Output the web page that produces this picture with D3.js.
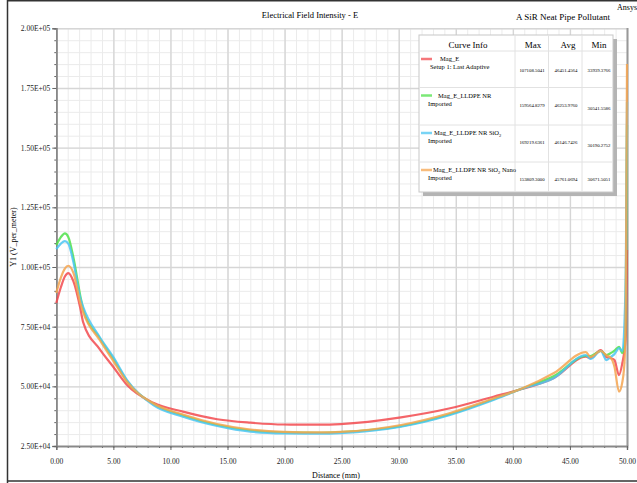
<!DOCTYPE html>
<html lang="en">
<head>
<meta charset="UTF-8">
<title>Electrical Field Intensity - E</title>
<script src="https://d3js.org/d3.v7.min.js"></script>
<style>
  body { margin: 0; background: #fff; }
  svg { display: block; font-family: 'Liberation Serif', 'DejaVu Serif', serif; }
</style>
</head>
<body>
<div id="chart"></div>
<script>
// distance along the pipe (mm), shared by all curves
const distance = [0, 0.4, 0.75, 1.05, 1.5, 2.1, 2.35, 3.8, 5.0, 6.2, 8.5, 11.1, 14.1, 17.0, 19.9, 23.2, 24.9,
  30.2, 34.5, 38.3, 40.7, 43.6, 46.4, 46.8, 47.7, 48.2, 48.6, 48.9, 49.3, 49.6, 49.8, 49.9, 50.0];

const magE = [84900, 91500, 96000, 97450, 94000, 82800, 76900, 65600, 58100, 50550, 43100, 39400, 36200, 34760, 34000, 33950, 34200,
  37000, 40800, 45650, 48750, 53480, 62400, 61850, 65200, 62200, 61800, 61000, 54700, 60000, 66000, 72000, 107108];
const magELldpe = [109180, 112500, 114080, 112600, 104000, 88000, 82400, 70230, 61440, 52200, 42590, 37770, 33800, 31490, 30700, 30550, 30800,
  33300, 38300, 44600, 48870, 54300, 62700, 62700, 64800, 63100, 64000, 65000, 66590, 63950, 68680, 90000, 159564];
const magESio2 = [107500, 109800, 110850, 109800, 102000, 87000, 83340, 70650, 62270, 52640, 42170, 37270, 33380, 30990, 30300, 30190, 30400,
  33080, 38000, 44260, 48750, 53500, 63100, 61440, 64800, 61000, 62400, 63500, 66000, 64800, 80000, 100000, 169219];
const magESio2Nano = [89080, 95500, 99300, 100510, 97500, 85000, 81100, 69400, 60600, 51800, 42800, 38190, 34210, 31910, 30900, 30680, 30900,
  33800, 38820, 44890, 48870, 55570, 64370, 62270, 64800, 63000, 61800, 58210, 47740, 52000, 62000, 90000, 185000];

const curveNames = ["Mag_E", "Mag_E_LLDPE NR", "Mag_E_LLDPE NR SiO", "Mag_E_LLDPE NR SiO"];
const curveSubs = ["", "", "2", "2"];
const curveTails = ["", "", "", " Nano"];
const curveSources = ["Setup 1: Last Adaptive", "Imported", "Imported", "Imported"];
const maxLabels = ["107108.5041", "159564.8279", "169219.6361", "153809.3000"];
const avgLabels = ["46451.4564", "46253.9760", "46146.7426", "45761.0694"];
const minLabels = ["33939.3766", "30541.5586", "30190.2752", "30671.5051"];
const colors = ["#f24a4f", "#4fe04a", "#4cc6f2", "#f5a550"];

const xTicks = d3.range(0, 51, 5);
const yTicks = d3.range(25000, 200001, 25000);

const W = 637, H = 483;
const svg = d3.select("#chart").append("svg").attr("width", W).attr("height", H);

const x = d3.scaleLinear().domain([0, 50]).range([56.3, 627]);
const y = d3.scaleLinear().domain([25000, 200000]).range([446, 28.3]);

// outer frame
svg.append("path").attr("d", "M7.5,483 V0.8 H637 M7.5,481 H637")
  .attr("fill", "none").attr("stroke", "#333").attr("stroke-width", 1.5);

// titles
svg.append("text").attr("x", 310).attr("y", 18).attr("text-anchor", "middle")
  .attr("font-size", 8.5).text("Electrical Field Intensity - E");
svg.append("text").attr("x", 516).attr("y", 20).attr("font-size", 9).text("A SiR Neat Pipe Pollutant");
svg.append("text").attr("x", 617).attr("y", 10).attr("font-size", 8).text("Ansys");

// grid
const grid = svg.append("g");
const plotW = x.range()[1] - x.range()[0], plotH = y.range()[0] - y.range()[1];
grid.append("g").attr("transform", `translate(0,${y.range()[0]})`)
  .call(d3.axisBottom(x).tickValues(d3.range(0, 51, 1)).tickSize(-plotH).tickFormat(""))
  .call(g => g.select(".domain").remove())
  .call(g => g.selectAll("line").attr("stroke", "#ebebeb"));
grid.append("g").attr("transform", `translate(${x.range()[0]},0)`)
  .call(d3.axisLeft(y).tickValues(d3.range(25000, 200001, 5000)).tickSize(-plotW).tickFormat(""))
  .call(g => g.select(".domain").remove())
  .call(g => g.selectAll("line").attr("stroke", "#ebebeb"));
grid.append("g").attr("transform", `translate(0,${y.range()[0]})`)
  .call(d3.axisBottom(x).tickValues(xTicks).tickSize(-plotH).tickFormat(""))
  .call(g => g.select(".domain").remove())
  .call(g => g.selectAll("line").attr("stroke", "#d6d6d6").attr("stroke-width", 1.4));
grid.append("g").attr("transform", `translate(${x.range()[0]},0)`)
  .call(d3.axisLeft(y).tickValues(yTicks).tickSize(-plotW).tickFormat(""))
  .call(g => g.select(".domain").remove())
  .call(g => g.selectAll("line").attr("stroke", "#d6d6d6").attr("stroke-width", 1.4));

// right border of the plot
svg.append("line").attr("x1", 627.5).attr("x2", 627.5).attr("y1", 28).attr("y2", 446)
  .attr("stroke", "#999").attr("stroke-width", 2);

// axes
const expFmt = v => {
  const [m, e] = v.toExponential(2).split("e");
  const n = Math.abs(+e);
  return `${m}E${+e < 0 ? "-" : "+"}${n < 10 ? "0" + n : n}`;
};
const axisStyle = g => {
  g.select(".domain").attr("stroke", "#888").attr("stroke-width", 1.5);
  g.selectAll(".tick line").attr("stroke", "#666");
  g.selectAll("text").attr("font-family", "'Liberation Serif', serif").attr("font-size", 7.5).attr("fill", "#222");
};
svg.append("g").attr("transform", `translate(${x.range()[0]},0)`)
  .call(d3.axisLeft(y).tickValues(d3.range(25000, 200001, 5000)).tickSize(2).tickFormat(""))
  .call(axisStyle);
svg.append("g").attr("transform", `translate(${x.range()[0]},0)`)
  .call(d3.axisLeft(y).tickValues(yTicks).tickSize(4).tickPadding(2).tickFormat(expFmt))
  .call(axisStyle);
svg.append("g").attr("transform", `translate(0,${y.range()[0]})`)
  .call(d3.axisBottom(x).tickValues(d3.range(0, 51, 1)).tickSize(2).tickFormat(""))
  .call(axisStyle);
svg.append("g").attr("transform", `translate(0,${y.range()[0]})`)
  .call(d3.axisBottom(x).tickValues(xTicks).tickSize(4).tickPadding(9).tickFormat(d3.format(".2f")))
  .call(axisStyle);

svg.append("text").attr("x", 336).attr("y", 478).attr("text-anchor", "middle")
  .attr("font-size", 8).text("Distance (mm)");
svg.append("text").attr("transform", "translate(16,237) rotate(-90)").attr("text-anchor", "middle")
  .attr("font-size", 8).text("Y1 (V_per_meter)");

// curves
const allSeries = [magE, magELldpe, magESio2, magESio2Nano];
const line = d3.line().x(d => x(d[0])).y(d => y(d[1])).curve(d3.curveMonotoneX);
allSeries.forEach((vals, i) => {
  svg.append("path")
    .datum(distance.map((d, j) => [d, vals[j]]))
    .attr("fill", "none")
    .attr("stroke", colors[i])
    .attr("stroke-width", 2.2)
    .attr("stroke-opacity", 0.85)
    .attr("stroke-linejoin", "round")
    .attr("d", line);
});

// legend table
const lg = svg.append("g");
const lx = 419, ly = 35, lw = 194, lh = 157;
lg.append("rect").attr("x", lx + 4).attr("y", ly + 4).attr("width", lw).attr("height", lh).attr("fill", "#b4b4b4");
lg.append("rect").attr("x", lx).attr("y", ly).attr("width", lw).attr("height", lh)
  .attr("fill", "#fff").attr("stroke", "#c8c8c8");
const rowLines = [51, 87.5, 125, 162];
rowLines.forEach(v => lg.append("line").attr("x1", lx).attr("x2", lx + lw).attr("y1", v).attr("y2", v)
  .attr("stroke", "#e2e2e2"));
[515, 548.5, 582].forEach(v => lg.append("line").attr("x1", v).attr("x2", v).attr("y1", ly).attr("y2", ly + lh)
  .attr("stroke", "#e2e2e2"));
lg.append("text").attr("x", 468).attr("y", 48).attr("text-anchor", "middle").attr("font-size", 9).text("Curve Info");
[["Max", 533], ["Avg", 568], ["Min", 599]].forEach(([t, cx]) =>
  lg.append("text").attr("x", cx).attr("y", 48).attr("text-anchor", "middle").attr("font-size", 9).text(t));

const nameX = [440, 438, 434, 433];
curveNames.forEach((nm, i) => {
  const top = rowLines[i];
  lg.append("line").attr("x1", 421).attr("x2", 432).attr("y1", top + 8).attr("y2", top + 8)
    .attr("stroke", colors[i]).attr("stroke-width", 2.5).attr("stroke-opacity", 0.75);
  const t = lg.append("text").attr("x", nameX[i]).attr("y", top + 10).attr("font-size", 6.5).text(nm);
  if (curveSubs[i]) t.append("tspan").attr("font-size", 4.5).attr("dy", 2).text(curveSubs[i]);
  if (curveTails[i]) t.append("tspan").attr("dy", -2).text(curveTails[i]);
  lg.append("text").attr("x", i === 0 ? 430 : 428).attr("y", top + 18).attr("font-size", 6.5).text(curveSources[i]);
  const vy = top + (i === 0 ? 21 : 19);
  lg.append("text").attr("x", 532).attr("y", vy).attr("text-anchor", "middle").attr("font-size", 4.8).text(maxLabels[i]);
  lg.append("text").attr("x", 566).attr("y", vy).attr("text-anchor", "middle").attr("font-size", 4.8).text(avgLabels[i]);
  lg.append("text").attr("x", 599).attr("y", vy + (i === 1 || i === 2 ? 3 : 0)).attr("text-anchor", "middle")
    .attr("font-size", 4.8).text(minLabels[i]);
});
</script>
</body>
</html>
